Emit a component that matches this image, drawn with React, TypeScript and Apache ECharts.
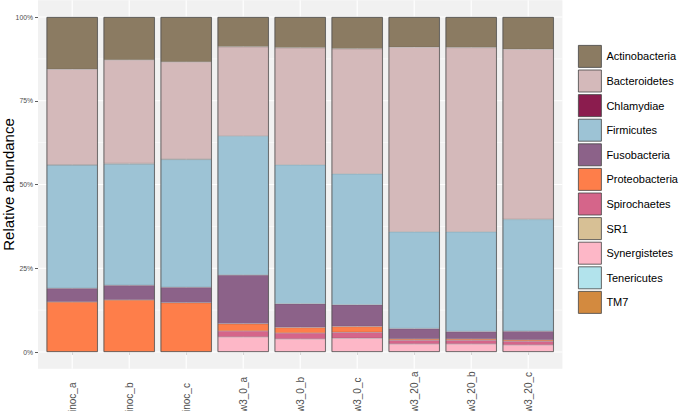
import React, { useEffect, useRef } from "react";
import * as echarts from "echarts";

const samples = ["inoc_a", "inoc_b", "inoc_c", "w3_0_a", "w3_0_b", "w3_0_c", "w3_20_a", "w3_20_b", "w3_20_c"];
const phyla = ["Actinobacteria", "Bacteroidetes", "Chlamydiae", "Firmicutes", "Fusobacteria", "Proteobacteria", "Spirochaetes", "SR1", "Synergistetes", "Tenericutes", "TM7"];
const phylumColors = ["#8B7B62", "#D4B9BA", "#8B1C4E", "#9DC3D5", "#8C6289", "#FE7E4A", "#D5658A", "#D7C095", "#FDB7C7", "#B2E3EC", "#D38A3F"];

const actinobacteria = [0.156, 0.128, 0.134, 0.089, 0.092, 0.095, 0.090, 0.091, 0.096];
const bacteroidetes = [0.285, 0.309, 0.290, 0.266, 0.349, 0.373, 0.551, 0.550, 0.508];
const chlamydiae = [0.001, 0.002, 0.001, 0, 0, 0, 0, 0, 0];
const firmicutes = [0.368, 0.362, 0.382, 0.415, 0.415, 0.391, 0.289, 0.298, 0.334];
const fusobacteria = [0.041, 0.044, 0.046, 0.146, 0.071, 0.065, 0.031, 0.022, 0.026];
const proteobacteria = [0.149, 0.155, 0.147, 0.021, 0.016, 0.017, 0.004, 0.004, 0.004];
const spirochaetes = [0, 0, 0, 0.018, 0.018, 0.018, 0.011, 0.011, 0.011];
const sr1 = [0, 0, 0, 0, 0, 0, 0, 0, 0];
const synergistetes = [0, 0, 0, 0.045, 0.039, 0.041, 0.024, 0.024, 0.021];
const tenericutes = [0, 0, 0, 0, 0, 0, 0, 0, 0];
const tm7 = [0, 0, 0, 0, 0, 0, 0, 0, 0];

const majorTicks = [0, 0.25, 0.5, 0.75, 1];
const minorTicks = [0.125, 0.375, 0.625, 0.875];

const FONT = "Liberation Sans, Arial, Helvetica, sans-serif";

export default function App() {
  const ref = useRef<HTMLDivElement>(null);
  useEffect(() => {
    if (!ref.current) return;
    const chart = echarts.init(ref.current, undefined, { renderer: "svg" });
    const values = [actinobacteria, bacteroidetes, chlamydiae, firmicutes, fusobacteria, proteobacteria, spirochaetes, sr1, synergistetes, tenericutes, tm7];
    const totals = samples.map((_, i) => values.reduce((s, arr) => s + arr[i], 0));

    const barSeries: any[] = [];
    for (let k = phyla.length - 1; k >= 0; k--) {
      barSeries.push({
        name: phyla[k],
        type: "bar",
        stack: "total",
        barWidth: "90%",
        z: 3,
        data: values[k].map((v) => (v > 0 ? v : "-")),
        itemStyle: { color: phylumColors[k], borderColor: "rgba(60,60,60,0.3)", borderWidth: 0.5 },
        silent: true,
      });
    }

    const option: any = {
      animation: false,
      backgroundColor: "#ffffff",
      textStyle: { fontFamily: FONT },
      grid: { left: 43.7, top: 17, width: 513, height: 335, containLabel: false, outerBoundsMode: "none" },
      xAxis: {
        type: "category",
        data: samples,
        offset: 17,
        axisLine: { show: false },
        axisTick: { show: true, length: 3, alignWithLabel: true, lineStyle: { color: "#333", width: 0.8 } },
        axisLabel: {
          rotate: 90,
          align: "left",
          verticalAlign: "middle",
          padding: [6, 0, 0, 0],
          margin: 43,
          fontSize: 10,
          color: "#4d4d4d",
          fontFamily: FONT,
          hideOverlap: false,
        },
        splitLine: { show: false },
      },
      yAxis: {
        type: "value",
        min: 0,
        max: 1,
        interval: 0.25,
        offset: 5.7,
        name: "Relative abundance",
        nameLocation: "middle",
        nameGap: 22.5,
        nameMoveOverlap: false,
        nameTextStyle: { fontSize: 15, color: "#000", fontFamily: FONT },
        axisLine: { show: false },
        axisTick: { show: true, length: 3, lineStyle: { color: "#333", width: 0.8 } },
        axisLabel: { fontSize: 6.8, color: "#4d4d4d", margin: 5, fontFamily: FONT, formatter: (v: number) => Math.round(v * 100) + "%" },
        splitLine: { show: false },
      },
      legend: {
        data: phyla,
        orient: "vertical",
        left: 578,
        top: 45,
        padding: 0,
        itemWidth: 23,
        itemHeight: 22,
        itemGap: 1.8,
        icon: "rect",
        selectedMode: false,
        textStyle: { fontSize: 11, color: "#000", fontFamily: FONT },
        itemStyle: { borderColor: "#444", borderWidth: 0.8 },
      },
      series: [
        {
          type: "custom",
          name: "panel",
          z: 0,
          silent: true,
          clip: false,
          data: [[0, 0]],
          renderItem: (params: any, api: any) => {
            const cs = params.coordSys;
            const ext = (cs.width / samples.length) * 0.1;
            const yTop = api.coord([0, 1.05])[1];
            const yBot = api.coord([0, -0.05])[1];
            return {
              type: "rect",
              shape: { x: cs.x - ext, y: yTop, width: cs.width + 2 * ext, height: yBot - yTop },
              style: { fill: "#f1f1f1" },
            };
          },
        },
        {
          type: "custom",
          name: "hgrid",
          z: 1,
          silent: true,
          clip: false,
          data: [...minorTicks, ...majorTicks].map((v) => [0, v]),
          renderItem: (params: any, api: any) => {
            const cs = params.coordSys;
            const ext = (cs.width / samples.length) * 0.1;
            const v = api.value(1);
            const y = api.coord([0, v])[1];
            const major = majorTicks.indexOf(v) >= 0;
            return {
              type: "line",
              shape: { x1: cs.x - ext, y1: y, x2: cs.x + cs.width + ext, y2: y },
              style: { stroke: "#ffffff", lineWidth: major ? 1.1 : 0.55 },
            };
          },
        },
        {
          type: "custom",
          name: "vgrid",
          z: 1,
          silent: true,
          clip: false,
          data: samples.map((s) => [s, 0]),
          renderItem: (params: any, api: any) => {
            const x = api.coord([api.value(0), 0])[0];
            const yTop = api.coord([0, 1.05])[1];
            const yBot = api.coord([0, -0.05])[1];
            return {
              type: "line",
              shape: { x1: x, y1: yTop, x2: x, y2: yBot },
              style: { stroke: "#ffffff", lineWidth: 1.1 },
            };
          },
        },
        ...barSeries,
        {
          type: "bar",
          name: "outline",
          barWidth: "90%",
          barGap: "-100%",
          z: 4,
          silent: true,
          data: totals,
          itemStyle: { color: "rgba(0,0,0,0)", borderColor: "#555", borderWidth: 0.8 },
        },
      ],
    };
    chart.setOption(option);
    return () => chart.dispose();
  }, []);
  return <div ref={ref} style={{ position: "absolute", left: 0, top: 0, width: 685, height: 411 }} />;
}
